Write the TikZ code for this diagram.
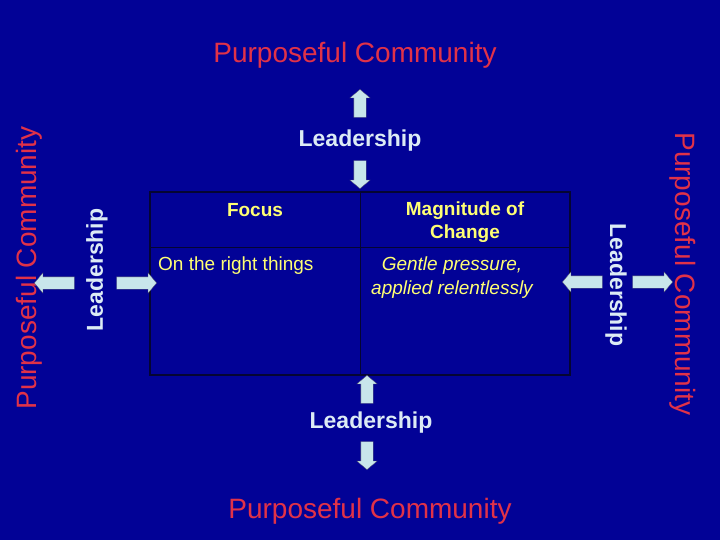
\documentclass[tikz,border=0pt]{standalone}
\usepackage{fontspec}
\setmainfont{Liberation Sans}
\usetikzlibrary{shapes.arrows,positioning}
\definecolor{slide}{RGB}{2,2,150}
\definecolor{commred}{RGB}{225,50,72}
\definecolor{leadwhite}{RGB}{220,235,245}
\definecolor{arrowcyan}{RGB}{200,230,235}
\definecolor{cellyellow}{RGB}{255,255,115}
\definecolor{gridline}{RGB}{5,5,50}
\tikzstyle{community} = [text=commred, font=\fontsize{28}{32}\selectfont, inner sep=0pt]
\tikzstyle{lead} = [text=leadwhite, font=\bfseries\fontsize{23}{28}\selectfont, inner sep=0pt]
\tikzstyle{blockarrow} = [single arrow, single arrow head extend=4pt, single arrow tip angle=100,
inner xsep=0pt, inner ysep=6pt, minimum height=28pt, fill=arrowcyan, draw=gridline!70, line width=0.3pt]
\tikzstyle{cell} = [text=cellyellow, font=\fontsize{19}{23}\selectfont, inner sep=0pt]

\begin{document}
\begin{tikzpicture}[x=1pt,y=-1pt]
            \fill[slide] (0,0) rectangle (720,540);
            % the grid
            \draw[gridline, line width=2pt] (150,192) rectangle (570,375);
            \draw[gridline, line width=0.8pt] (360,192) -- (360,375);
            \draw[gridline, line width=0.8pt] (150,247) -- (570,247);
            \node[cell, font=\bfseries\fontsize{19}{23}\selectfont] (focus) at (255,210) {Focus};
            \node[cell, font=\bfseries\fontsize{19}{23}\selectfont, align=center] (magnitude) at (465,222) {Magnitude of\\Change};
            \node[cell, anchor=west] (right) at (158,266) {On the right things};
            \node[cell, font=\itshape\fontsize{19}{24}\selectfont, align=center] (gentle) at (452,278) {Gentle pressure,\\applied relentlessly};
            % top
            \node[community] (topcomm) at (355,55) {Purposeful Community};
            \node[blockarrow, rotate=90] (topup) at (360,106) {};
            \node[lead] (toplead) at (360,141) {Leadership};
            \node[blockarrow, rotate=-90] (topdown) at (360,172) {};
            % bottom
            \node[blockarrow, rotate=90] (botup) at (367,392) {};
            \node[lead] (botlead) at (371,423) {Leadership};
            \node[blockarrow, rotate=-90] (botdown) at (367,453) {};
            \node[community] (botcomm) at (370,511) {Purposeful Community};
            % left
            \node[community, rotate=90] (leftcomm) at (29,268) {Purposeful Community};
            \node[blockarrow, rotate=180, minimum height=40pt] (leftout) at (57,283) {};
            \node[lead, rotate=90] (leftlead) at (97,270) {Leadership};
            \node[blockarrow, minimum height=40pt] (leftin) at (134,283) {};
            % right
            \node[blockarrow, rotate=180, minimum height=40pt] (rightin) at (585,282) {};
            \node[lead, rotate=-90] (rightlead) at (616,285) {Leadership};
            \node[blockarrow, minimum height=40pt] (rightout) at (650,282) {};
            \node[community, rotate=-90] (rightcomm) at (683,274) {Purposeful Community};
        \end{tikzpicture}
\end{document}
